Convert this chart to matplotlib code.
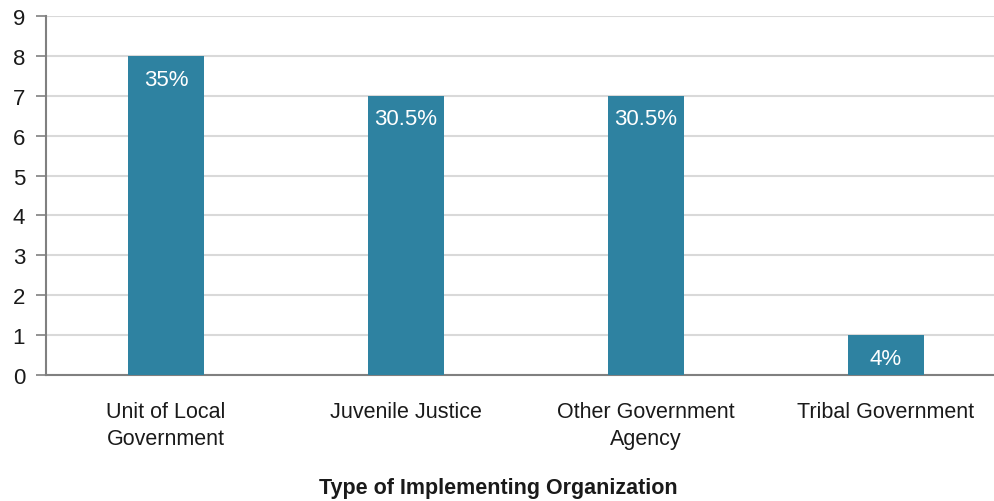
import matplotlib.pyplot as plt
from matplotlib import font_manager

categories = ['Unit of Local\nGovernment', 'Juvenile Justice', 'Other Government\nAgency', 'Tribal Government']
counts = [8, 7, 7, 1]
pct_labels = ['35%', '30.5%', '30.5%', '4%']

names = {f.name for f in font_manager.fontManager.ttflist}
font = 'Liberation Sans Narrow' if 'Liberation Sans Narrow' in names else 'Liberation Sans'
plt.rcParams['font.family'] = [font, 'DejaVu Sans']

bar_color = '#2E82A1'

fig = plt.figure(figsize=(9.94, 5.02), dpi=100)
ax = fig.add_axes([46 / 994, 1 - 376 / 502, 948 / 994, 359 / 502])

x = range(len(categories))
bars = ax.bar(x, counts, width=0.317, color=bar_color, zorder=3)

for bar, lab in zip(bars, pct_labels):
    ax.text(bar.get_x() + bar.get_width() / 2, bar.get_height() - 0.58, lab,
            ha='center', va='center', color='white', fontsize=16, zorder=4)

ax.set_xlim(-0.5, 3.45)
ax.set_ylim(0, 9)
ax.set_yticks(range(10))
ax.yaxis.grid(True, color='#D9D9D9', linewidth=1.5, zorder=0)
ax.set_axisbelow(True)

ax.set_xticks(list(x))
ax.set_xticklabels(categories, fontsize=15.5, color='#1a1a1a', linespacing=1.35)
ax.tick_params(axis='x', length=0, pad=19)
ax.tick_params(axis='y', length=7, width=1.2, color='#808080', labelsize=16,
               labelcolor='#1a1a1a', pad=8)

for side in ['top', 'right']:
    ax.spines[side].set_visible(False)
ax.spines['left'].set_color('#808080')
ax.spines['bottom'].set_color('#808080')
ax.spines['left'].set_linewidth(1.5)
ax.spines['bottom'].set_linewidth(1.5)

fig.text(498 / 994, 1 - 489 / 502, 'Type of Implementing Organization',
         ha='center', va='center', fontsize=15.5, fontweight='bold', color='#1a1a1a')

fig.savefig('out.png', dpi=100)
